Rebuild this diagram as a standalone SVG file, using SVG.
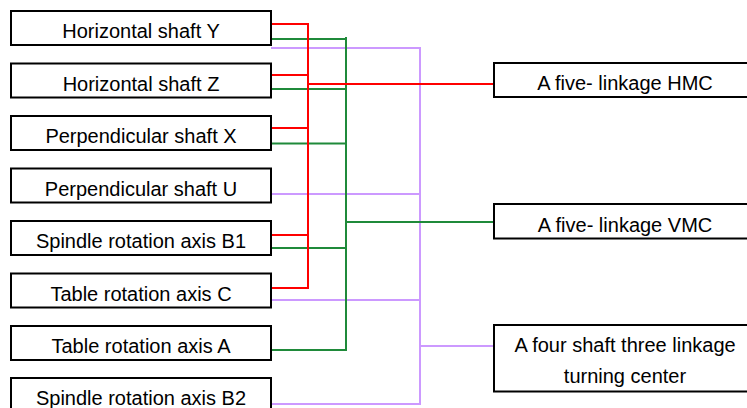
<svg xmlns="http://www.w3.org/2000/svg" width="747" height="408" viewBox="0 0 747 408">
<style>
.box{fill:#fff;stroke:#000;stroke-width:2}
.t{font-family:"Liberation Sans",Arial,sans-serif;font-size:20px;fill:#000;text-anchor:middle}
.red{stroke:#ff0000;stroke-width:2;fill:none}
.grn{stroke:#1f8a3a;stroke-width:2;fill:none}
.pur{stroke:#cc99ff;stroke-width:2;fill:none}
</style>
<rect width="747" height="408" fill="#fff"/>
<g id="connectors">
<path class="pur" d="M271 48H420M271 194H420M271 300H420M271 404H420M420 47V405M420 346H494"/>
<path class="grn" d="M271 39H346M271 89H346M271 143.5H346M271 248H346M271 350H346M346 37V351M346 222H494"/>
<path class="red" d="M271 24H308M271 75H308M271 128H308M271 235H308M271 288H308M308 23V289M308 84H494"/>
</g>
<g id="n1"><rect class="box" x="11" y="11" width="260" height="34"/><text class="t" x="141" y="38">Horizontal shaft Y</text></g>
<g id="n2"><rect class="box" x="11" y="63.5" width="260" height="34"/><text class="t" x="141" y="90.5">Horizontal shaft Z</text></g>
<g id="n3"><rect class="box" x="11" y="116" width="260" height="34"/><text class="t" x="141" y="143">Perpendicular shaft X</text></g>
<g id="n4"><rect class="box" x="11" y="168.5" width="260" height="34"/><text class="t" x="141" y="195.5">Perpendicular shaft U</text></g>
<g id="n5"><rect class="box" x="11" y="221" width="260" height="34"/><text class="t" x="141" y="248">Spindle rotation axis B1</text></g>
<g id="n6"><rect class="box" x="11" y="273.5" width="260" height="34"/><text class="t" x="141" y="300.5">Table rotation axis C</text></g>
<g id="n7"><rect class="box" x="11" y="326" width="260" height="34"/><text class="t" x="141" y="353">Table rotation axis A</text></g>
<g id="n8"><rect class="box" x="11" y="378" width="260" height="34"/><text class="t" x="141" y="405">Spindle rotation axis B2</text></g>
<g id="hmc"><rect class="box" x="494" y="63" width="262" height="34"/><text class="t" x="625" y="90">A five- linkage HMC</text></g>
<g id="vmc"><rect class="box" x="494" y="204" width="262" height="34.5"/><text class="t" x="625" y="231.5">A five- linkage VMC</text></g>
<g id="tc"><rect class="box" x="494" y="325" width="262" height="66.5"/><text class="t" x="625" y="352">A four shaft three linkage</text><text class="t" x="625" y="383">turning center</text></g>
</svg>
